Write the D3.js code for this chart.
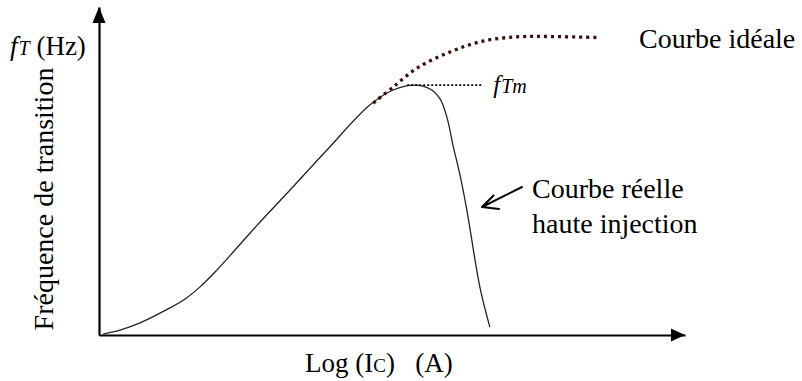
<!DOCTYPE html>
<html>
<head>
<meta charset="utf-8">
<script src="https://cdn.jsdelivr.net/npm/d3@7"></script>
<style>
  html, body { margin: 0; padding: 0; background: #fff; }
  text { white-space: pre; }
</style>
</head>
<body>
<svg id="chart" width="802" height="381"></svg>
<script>
// Real transit-frequency curve (log Ic, fT) in arbitrary units
const realLogIc = [0.7, 3.6, 7.0, 11.3, 14.7, 17.2, 19.8, 23.2, 27.0, 32.6, 38.9, 46.2, 50.2, 53.9, 56.5, 58.2, 59.4, 60.4, 61.6, 62.8, 65.0, 66.7];
const realFt    = [0.3, 1.5, 3.7, 7.5, 11.0, 14.6, 19.2, 25.9, 33.5, 44.2, 56.4, 70.1, 74.7, 76.2, 75.0, 72.0, 66.2, 57.9, 48.8, 37.8, 14.6, 2.4];

// Ideal curve (no high-injection fall-off)
const idealLogIc = [46.8, 50.2, 54.3, 59.9, 65.5, 71.3, 77.0, 85.0];
const idealFt    = [70.7, 75.6, 81.4, 86.3, 89.6, 90.9, 91.0, 90.7];

// Maximum transit frequency marker
const fTmValue = 76.2;
const fTmSpan  = [52.6, 65.4];

const serif = '"Liberation Serif", "Times New Roman", serif';

const svg = d3.select("#chart");

const x = d3.scaleLinear().domain([0, 100]).range([99, 685]);
const y = d3.scaleLinear().domain([0, 100]).range([335, 7]);

// Axes (no ticks), drawn as arrows
const xAxis = svg.append("g")
  .attr("transform", `translate(0,${y(0)})`)
  .call(d3.axisBottom(x).tickValues([]).tickSizeOuter(0));
xAxis.select(".domain").attr("stroke", "#000").attr("stroke-width", 2.2);

const yAxis = svg.append("g")
  .attr("transform", `translate(${x(0)},0)`)
  .call(d3.axisLeft(y).tickValues([]).tickSizeOuter(0));
yAxis.select(".domain").attr("stroke", "#000").attr("stroke-width", 2.2);

// Arrow heads
const xe = x(100), ye = y(100), x0 = x(0), y0 = y(0);
svg.append("path")
  .attr("d", `M${xe},${y0} L${xe - 14},${y0 - 6.5} L${xe - 14},${y0 + 6.5} Z`)
  .attr("fill", "#000");
svg.append("path")
  .attr("d", `M${x0},${ye} L${x0 - 6.5},${ye + 16} L${x0 + 6.5},${ye + 16} Z`)
  .attr("fill", "#000");

// Real curve
const realData = realLogIc.map((v, i) => [v, realFt[i]]);
const line = d3.line().x(d => x(d[0])).y(d => y(d[1])).curve(d3.curveCatmullRom.alpha(0.5));
svg.append("path")
  .datum(realData)
  .attr("d", line)
  .attr("fill", "none")
  .attr("stroke", "#222")
  .attr("stroke-width", 1.3);

// Ideal curve, square dots
const idealData = idealLogIc.map((v, i) => [v, idealFt[i]]);
svg.append("path")
  .datum(idealData)
  .attr("d", line)
  .attr("fill", "none")
  .attr("stroke", "#3a0c0c")
  .attr("stroke-width", 3.3)
  .attr("stroke-dasharray", "3,4");

// fTm level
svg.append("line")
  .attr("x1", x(fTmSpan[0])).attr("x2", x(fTmSpan[1]))
  .attr("y1", y(fTmValue)).attr("y2", y(fTmValue))
  .attr("stroke", "#000")
  .attr("stroke-width", 1.8)
  .attr("stroke-dasharray", "2,2");

const txt = (sel) => sel.append("text").style("font-family", serif).attr("fill", "#000");

const fTm = txt(svg)
  .attr("x", x(fTmSpan[1]) + 11)
  .attr("y", y(fTmValue) + 8)
  .attr("font-style", "italic");
fTm.append("tspan").attr("font-size", 25).text("f");
fTm.append("tspan").attr("font-size", 20).attr("dx", 1).text("Tm");

// Axis titles
const fT = txt(svg).attr("x", 10).attr("y", 55);
fT.append("tspan").attr("font-size", 27).attr("font-style", "italic").text("f");
fT.append("tspan").attr("font-size", 20).attr("font-style", "italic").attr("dx", 1).text("T");
fT.append("tspan").attr("font-size", 27).text(" (Hz)");

txt(svg)
  .attr("transform", "translate(53,199) rotate(-90)")
  .attr("text-anchor", "middle")
  .attr("font-size", 28)
  .text("Fréquence de transition");

const xt = txt(svg).attr("x", 305).attr("y", 372).attr("font-size", 27);
xt.append("tspan").text("Log (I");
xt.append("tspan").attr("font-size", 19).text("C");
xt.append("tspan").text(")   (A)");

// Curve labels
txt(svg).attr("x", 639).attr("y", 48).attr("font-size", 28).text("Courbe idéale");
txt(svg).attr("x", 532).attr("y", 198).attr("font-size", 28).text("Courbe réelle");
txt(svg).attr("x", 532).attr("y", 233).attr("font-size", 28).text("haute injection");

// Pointer to the real curve
svg.append("path")
  .attr("d", "M522,187 L482,207 M482,207 L493.5,195.5 M482,207 L499,209")
  .attr("fill", "none")
  .attr("stroke", "#000")
  .attr("stroke-width", 2)
  .attr("stroke-linecap", "round");
</script>
</body>
</html>
